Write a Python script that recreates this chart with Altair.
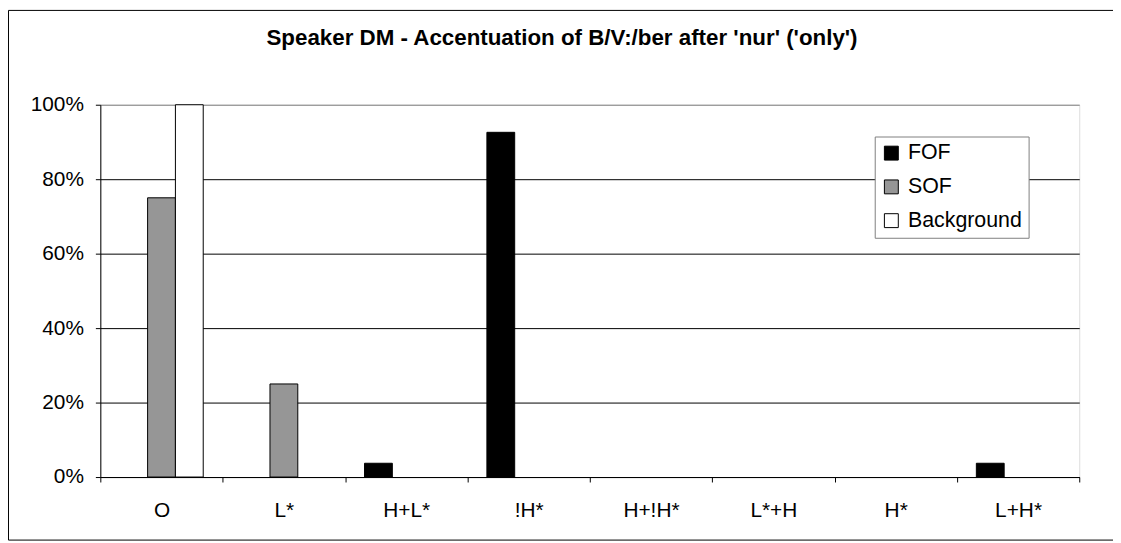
import altair as alt
import pandas as pd

categories = ["O", "L*", "H+L*", "!H*", "H+!H*", "L*+H", "H*", "L+H*"]
series = ["FOF", "SOF", "Background"]
fof = [0, 0, 1 / 27, 25 / 27, 0, 0, 0, 1 / 27]
sof = [0.75, 0.25, 0, 0, 0, 0, 0, 0]
background = [1.0, 0, 0, 0, 0, 0, 0, 0]
colors = ["#000000", "#969696", "#ffffff"]
y_ticks = [0, 0.2, 0.4, 0.6, 0.8, 1.0]
title_text = "Speaker DM - Accentuation of B/V:/ber after 'nur' ('only')"

rows = []
for name, vals in zip(series, [fof, sof, background]):
    for c, v in zip(categories, vals):
        rows.append({"category": c, "series": name, "value": v})
df = pd.DataFrame(rows)
df = df[df["value"] > 0]

FONT = "Liberation Sans"
W, H = 986, 375
PL, PT = 93, 95.5

bars = alt.Chart(df).mark_bar(stroke="black", strokeWidth=1).encode(
    x=alt.X(
        "category:N",
        sort=categories,
        scale=alt.Scale(domain=categories, paddingInner=0, paddingOuter=0),
        axis=alt.Axis(
            title=None, tickBand="extent", labelAngle=0, labelFont=FONT,
            labelFontSize=21, labelColor="black", tickColor="black", tickSize=5,
            domainColor="black", labelPadding=18, grid=False,
        ),
    ),
    xOffset=alt.XOffset(
        "series:N", sort=series,
        scale=alt.Scale(domain=series, paddingInner=0, paddingOuter=0.70),
    ),
    y=alt.Y(
        "value:Q",
        scale=alt.Scale(domain=[0, 1], nice=False),
        axis=alt.Axis(
            title=None, format="%", values=y_ticks, labelFont=FONT, labelFontSize=21,
            labelColor="black", tickColor="black", tickSize=5, domainColor="black",
            labelPadding=12, grid=True,
            gridColor=alt.condition("datum.value == 1", alt.value("#808080"), alt.value("black")),
        ),
    ),
    fill=alt.Fill(
        "series:N", sort=series,
        scale=alt.Scale(domain=series, range=colors),
        legend=alt.Legend(
            title=None, orient="none", legendX=780, legendY=32, fillColor="white",
            strokeColor="#808080", padding=6, rowPadding=11, symbolType="square",
            symbolSize=196, symbolStrokeColor="black", symbolStrokeWidth=1,
            labelFont=FONT, labelFontSize=21.5, labelColor="black", labelOffset=6,
        ),
    ),
)

border = alt.Chart(alt.Data(values=[{"k": 1}])).mark_rect(
    fillOpacity=0, stroke="black", strokeWidth=1
).encode(
    x=alt.value(-PL + 0.5), x2=alt.value(2000), y=alt.value(-PT + 0.5), y2=alt.value(438.5)
)

chart = alt.layer(border, bars).properties(
    width=W, height=H,
    title=alt.TitleParams(
        text=title_text, font=FONT, fontSize=22.5, fontWeight="bold", color="black",
        anchor="middle", dx=-28, offset=-57.5, baseline="alphabetic",
    ),
    autosize=alt.AutoSizeParams(type="none"),
    padding={"left": PL, "top": PT, "right": 34, "bottom": 64},
).configure_view(stroke="#808080", strokeWidth=1).configure(background="white")

chart.save("out.html", embed_options={"renderer": "svg", "actions": False})
